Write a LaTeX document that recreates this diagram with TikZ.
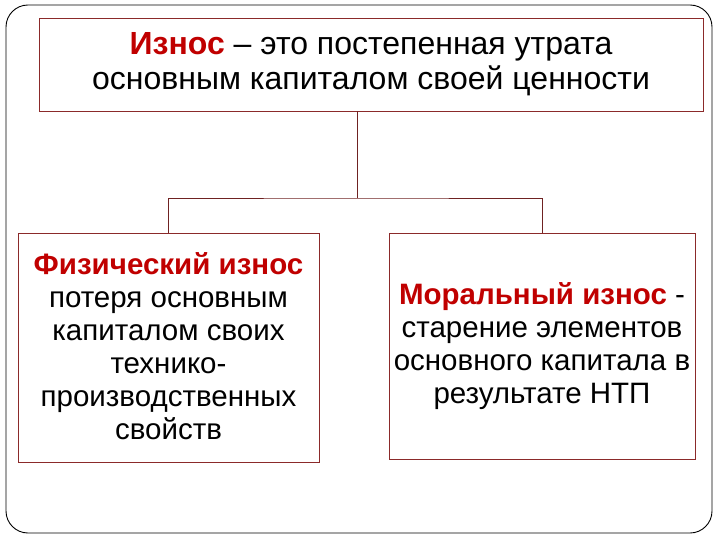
\documentclass[tikz,border=0pt]{standalone}
\usepackage{fontspec}
\setmainfont{Liberation Sans}
\definecolor{bred}{HTML}{8B2A2A}
\definecolor{tred}{HTML}{C00000}
\begin{document}
\begin{tikzpicture}[x=1pt,y=-1pt,
  box/.style={draw=bred,line width=0.6pt,inner sep=0pt},
  conn/.style={draw=bred!80!black,line width=0.6pt}]
\useasboundingbox (0,0) rectangle (720,540);
\draw[line width=0.9pt,rounded corners=22pt] (6,5) rectangle (712,533);
\node[box,minimum width=664pt,minimum height=93pt] (top) at (371,64.5) {};
\node[align=center,font=\fontsize{32}{35}\selectfont] at (top) {{\color{tred}\textbf{Износ}} – это постепенная утрата\\основным капиталом своей ценности};
\node[box,minimum width=301pt,minimum height=229pt] (L) at (168.5,347.5) {};
\node[align=center,font=\fontsize{29.5}{33}\selectfont] at (168.5,346) {{\color{tred}\textbf{Физический износ}}\\потеря основным\\капиталом своих\\технико-\\производственных\\свойств};
\node[box,minimum width=306pt,minimum height=226pt] (R) at (542,346) {};
\node[align=center,font=\fontsize{29.5}{33}\selectfont] at (542,346) {{\color{tred}\textbf{Моральный износ}} -\\старение элементов\\основного капитала в\\результате НТП};
\coordinate (j) at (357,198);
\draw[conn] (top.south -| j) -- (j);
\draw[conn] (L.north) |- (j) -| (R.north);
\end{tikzpicture}
\end{document}
